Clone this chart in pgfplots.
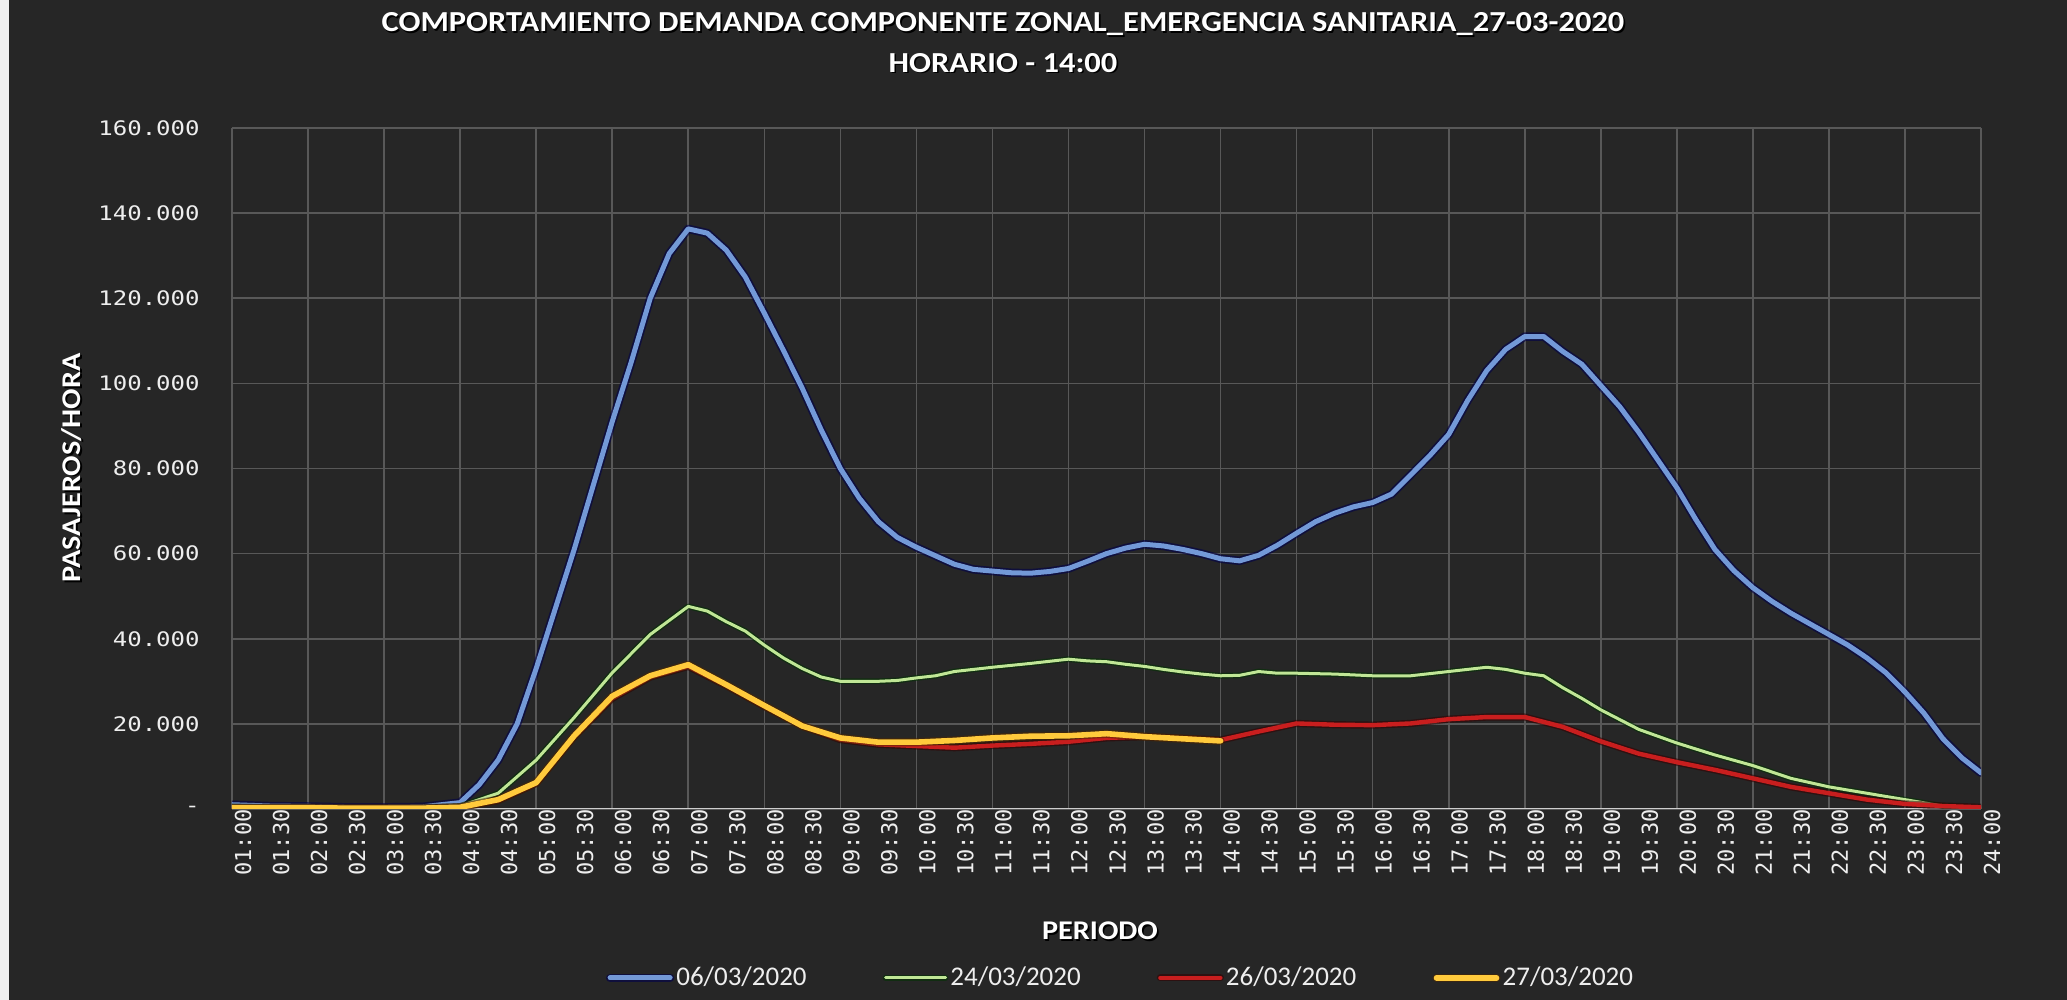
\documentclass[border=0pt]{standalone}
\usepackage{fontspec}
\setmainfont{Carlito}
\newfontfamily\titlefont[FakeStretch=1.12]{Carlito}
\newfontfamily\xmono{DejaVu Sans Mono}
\newfontfamily\ymono[FakeStretch=1.2]{DejaVu Sans Mono}
\usepackage{pgfplots}
\pgfplotsset{compat=1.18}
\definecolor{bg}{RGB}{38,38,38}
\definecolor{gridc}{RGB}{88,88,88}
\definecolor{axc}{RGB}{205,205,205}
\definecolor{cblue}{RGB}{115,153,215}
\definecolor{cgreen}{RGB}{192,230,150}
\definecolor{cred}{RGB}{200,30,30}
\definecolor{cyellow}{RGB}{255,202,60}
\definecolor{txt}{RGB}{238,238,238}
\begin{document}
\begin{tikzpicture}
\fill[bg] (-116pt,-95.5pt) rectangle (917.5pt,404.5pt);
\fill[white!88!gray] (-116pt,-95.5pt) rectangle (-111.5pt,404.5pt);
\begin{axis}[
  at={(0pt,0pt)}, anchor=south west,
  scale only axis, width=874.5pt, height=340.5pt,
  xmin=1, xmax=24, ymin=0, ymax=160000,
  scaled y ticks=false,
  axis line style={draw=none},
  major tick length=0pt, tick style={draw=none},
  ytick={0,20000,40000,60000,80000,100000,120000,140000,160000},
  yticklabels={-,20.000,40.000,60.000,80.000,100.000,120.000,140.000,160.000},
  xtick={1,1.5,2,2.5,3,3.5,4,4.5,5,5.5,6,6.5,7,7.5,8,8.5,9,9.5,10,10.5,11,11.5,12,12.5,13,13.5,14,14.5,15,15.5,16,16.5,17,17.5,18,18.5,19,19.5,20,20.5,21,21.5,22,22.5,23,23.5,24},
  xticklabels={01:00,01:30,02:00,02:30,03:00,03:30,04:00,04:30,05:00,05:30,06:00,06:30,07:00,07:30,08:00,08:30,09:00,09:30,10:00,10:30,11:00,11:30,12:00,12:30,13:00,13:30,14:00,14:30,15:00,15:30,16:00,16:30,17:00,17:30,18:00,18:30,19:00,19:30,20:00,20:30,21:00,21:30,22:00,22:30,23:00,23:30,24:00},
  ymajorgrids, xmajorgrids=false,
  extra x ticks={1,2,3,4,5,6,7,8,9,10,11,12,13,14,15,16,17,18,19,20,21,22,23,24},
  extra x tick labels={},
  extra x tick style={grid=major},
  major grid style={draw=gridc, line width=0.8pt},
  xticklabel style={rotate=90, anchor=east, font=\xmono\fontsize{11pt}{12pt}\selectfont, text=txt, inner sep=0pt, yshift=-5.5pt},
  yticklabel style={anchor=east, font=\ymono\fontsize{10pt}{11pt}\selectfont, text=txt, inner sep=0pt, xshift=-16pt},
  legend columns=4,
  legend style={at={(axis description cs:0.508,-0.248)}, anchor=center, draw=none, fill=none,
    text=txt, font=\fontsize{13.5pt}{15pt}\selectfont, inner sep=0pt,
    nodes={inner sep=1pt},
    /tikz/every even column/.append style={column sep=37pt}},
  legend image code/.code={\draw[#1] (0pt,0pt) -- (30pt,0pt);},
  every axis plot/.append style={line join=round, line cap=round},
]
\draw[axc, line width=1.2pt] (axis cs:1,0) -- (axis cs:24,0);
\addplot[cblue, line width=2.5pt, preaction={draw=black!70!blue, line width=4.2pt, opacity=0.6}] coordinates {
(1.0,1000) (1.5,700) (2.0,600) (2.5,400) (3.0,400) (3.5,500) (4.0,1500) (4.25,5700) (4.5,11500) (4.75,20000)
(5.0,33000) (5.25,47000) (5.5,61000) (5.75,76000) (6.0,91000) (6.25,105000) (6.5,120000) (6.75,130500)
(7.0,136300) (7.25,135300) (7.5,131300) (7.75,125000) (8.0,116500) (8.25,107800) (8.5,98800) (8.75,89000)
(9.0,80000) (9.25,73000) (9.5,67500) (9.75,63800) (10.0,61500) (10.25,59500) (10.5,57500) (10.75,56300)
(11.0,55900) (11.25,55500) (11.5,55400) (11.75,55800) (12.0,56500) (12.25,58200) (12.5,60000) (12.75,61300)
(13.0,62200) (13.25,61800) (13.5,61000) (13.75,60000) (14.0,58800) (14.25,58300) (14.5,59600) (14.75,62000)
(15.0,64800) (15.25,67500) (15.5,69500) (15.75,71000) (16.0,72000) (16.25,74000) (16.5,78500) (16.75,83000)
(17.0,88000) (17.25,96000) (17.5,103000) (17.75,108000) (18.0,111000) (18.25,111000) (18.5,107500) (18.75,104500)
(19.0,99500) (19.25,94500) (19.5,88500) (19.75,82000) (20.0,75500) (20.25,68000) (20.5,61000) (20.75,56000)
(21.0,52000) (21.25,48800) (21.5,46000) (21.75,43500) (22.0,41000) (22.25,38500) (22.5,35500) (22.75,32000)
(23.0,27500) (23.25,22500) (23.5,16500) (23.75,12000) (24.0,8500)
};
\addlegendentry{06/03/2020}
\addplot[cgreen, line width=1.5pt, preaction={draw=black!80!green, line width=2.9pt, opacity=0.55}] coordinates {
(1.0,600) (1.5,400) (2.0,400) (2.5,300) (3.0,300) (3.5,300) (4.0,700) (4.5,3700) (5.0,11500) (5.5,21500)
(6.0,32000) (6.5,41000) (7.0,47600) (7.25,46500) (7.5,44000) (7.75,41800) (8.0,38500) (8.25,35500) (8.5,33000)
(8.75,31000) (9.0,30000) (9.5,30000) (9.75,30200) (10.0,30800) (10.25,31300) (10.5,32300) (10.75,32800)
(11.0,33300) (11.5,34200) (12.0,35200) (12.25,34800) (12.5,34600) (12.75,34000) (13.0,33500) (13.25,32800)
(13.5,32200) (13.75,31700) (14.0,31300) (14.25,31400) (14.5,32300) (14.75,31900) (15.0,31900) (15.5,31700)
(16.0,31300) (16.5,31300) (17.0,32300) (17.5,33300) (17.75,32800) (18.0,31900) (18.25,31300) (18.5,28500)
(18.75,26000) (19.0,23300) (19.5,18700) (20.0,15500) (20.5,12700) (21.0,10200) (21.5,7200) (22.0,5200)
(22.5,3700) (23.0,2200) (23.5,700) (24.0,200)
};
\addlegendentry{24/03/2020}
\addplot[cred, line width=2.2pt, preaction={draw=black!80!red, line width=3.6pt, opacity=0.55}] coordinates {
(1.0,300) (1.5,300) (2.0,300) (2.5,200) (3.0,200) (3.5,200) (4.0,400) (4.5,2000) (5.0,6000) (5.5,17000)
(6.0,26000) (6.5,31000) (7.0,33500) (7.5,29000) (8.0,24100) (8.5,19500) (9.0,16300) (9.5,15200) (10.0,14800)
(10.5,14400) (11.0,14900) (11.5,15300) (12.0,15800) (12.5,16700) (13.0,17000) (13.5,16600) (14.0,16200)
(14.5,18200) (15.0,20100) (15.5,19800) (16.0,19700) (16.5,20100) (17.0,21100) (17.5,21600) (18.0,21600)
(18.5,19300) (19.0,15900) (19.5,13000) (20.0,11000) (20.5,9200) (21.0,7200) (21.5,5200) (22.0,3700)
(22.5,2200) (23.0,1200) (23.5,700) (24.0,400)
};
\addlegendentry{26/03/2020}
\addplot[cyellow, line width=2.8pt, preaction={draw=black!70!orange, line width=4.2pt, opacity=0.55}] coordinates {
(1.0,300) (1.5,300) (2.0,300) (2.5,200) (3.0,200) (3.5,200) (4.0,400) (4.5,2200) (5.0,6200) (5.5,17200)
(6.0,26500) (6.5,31300) (7.0,33900) (7.5,29200) (8.0,24300) (8.5,19500) (9.0,16700) (9.5,15700) (10.0,15700)
(10.5,16100) (11.0,16700) (11.5,17100) (12.0,17200) (12.5,17700) (13.0,17000) (13.5,16500) (14.0,16000)
};
\addlegendentry{27/03/2020}
\end{axis}
\foreach \dx/\dy/\c in {0.8pt/-0.8pt/black, 0pt/0pt/white} {
  \node[text=\c, font=\titlefont\bfseries\fontsize{14.5pt}{16pt}\selectfont] at ([shift={(\dx,\dy)}]385.5pt,392.5pt) {COMPORTAMIENTO DEMANDA COMPONENTE ZONAL\_EMERGENCIA SANITARIA\_27-03-2020};
  \node[text=\c, font=\titlefont\bfseries\fontsize{14.5pt}{16pt}\selectfont] at ([shift={(\dx,\dy)}]385.5pt,373pt) {HORARIO - 14:00};
  \node[text=\c, font=\titlefont\bfseries\fontsize{13.5pt}{16pt}\selectfont] at ([shift={(\dx,\dy)}]434pt,-61pt) {PERIODO};
  \node[text=\c, rotate=90, font=\titlefont\bfseries\fontsize{13.5pt}{16pt}\selectfont] at ([shift={(\dx,\dy)}]-80pt,170.5pt) {PASAJEROS/HORA};
}
\end{tikzpicture}
\end{document}
